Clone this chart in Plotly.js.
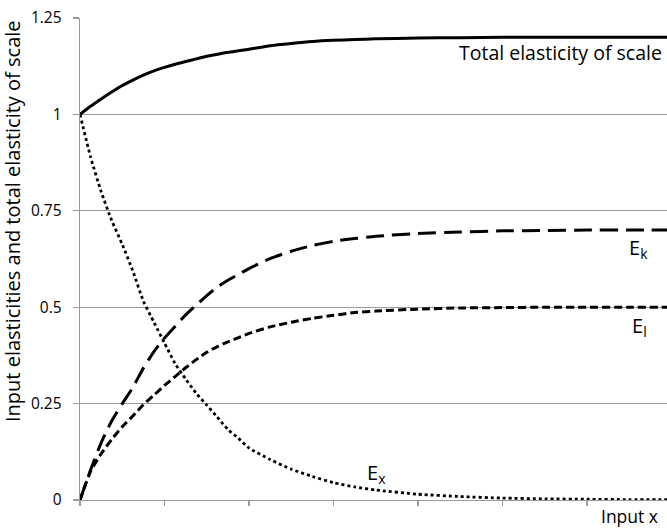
<!DOCTYPE html>
<html>
<head>
<meta charset="utf-8">
<script src="https://cdn.plot.ly/plotly-3.0.1.min.js"></script>
<style>html,body{margin:0;padding:0;background:#fff;overflow:hidden}#chart{width:667px;height:528px}</style>
</head>
<body>
<div id="chart"></div>
<script>
// Input x (in tick intervals)
const inputX = [0, 0.125, 0.25, 0.375, 0.5, 0.625, 0.75, 0.875, 1, 1.125, 1.25, 1.375, 1.5, 1.625, 1.75, 1.875, 2, 2.25, 2.5, 2.75, 3, 3.25, 3.5, 4, 4.5, 5, 5.5, 6, 6.5, 7];
const totalScale = [1.0, 1.021, 1.04, 1.058, 1.075, 1.089, 1.102, 1.113, 1.122, 1.13, 1.137, 1.144, 1.151, 1.156, 1.161, 1.165, 1.169, 1.178, 1.184, 1.189, 1.192, 1.194, 1.196, 1.198, 1.199, 1.2, 1.2, 1.2, 1.2, 1.2];
const eK = [0, 0.078, 0.148, 0.205, 0.25, 0.292, 0.342, 0.385, 0.42, 0.45, 0.48, 0.505, 0.53, 0.552, 0.57, 0.585, 0.60, 0.626, 0.645, 0.66, 0.671, 0.678, 0.684, 0.691, 0.695, 0.698, 0.699, 0.70, 0.70, 0.70];
const eL = [0, 0.074, 0.12, 0.157, 0.19, 0.218, 0.247, 0.272, 0.297, 0.32, 0.343, 0.364, 0.383, 0.398, 0.41, 0.421, 0.432, 0.449, 0.461, 0.471, 0.479, 0.486, 0.49, 0.495, 0.498, 0.499, 0.5, 0.5, 0.5, 0.5];
const eX = [1.0, 0.89, 0.80, 0.725, 0.663, 0.594, 0.516, 0.461, 0.407, 0.354, 0.314, 0.277, 0.246, 0.215, 0.183, 0.16, 0.135, 0.105, 0.08, 0.061, 0.045, 0.034, 0.026, 0.015, 0.009, 0.005, 0.003, 0.002, 0.001, 0.001];
const yTicks = [0, 0.25, 0.5, 0.75, 1, 1.25];
const yTickText = ["0", "0.25", "0.5", "0.75", "1", "1.25"];

const FONT = "Open Sans, Liberation Sans, sans-serif";
const mk = (y, dash, w) => ({
  x: inputX, y: y, type: "scatter", mode: "lines",
  line: {color: "#000", width: w, dash: dash, shape: "spline", smoothing: 0.6},
  hoverinfo: "skip", showlegend: false
});

const data = [
  mk(totalScale, "solid", 3),
  mk(eK, "18px,8px", 3),
  mk(eL, "8px,4px", 3),
  mk(eX, "3px,3px", 2.8)
];

const pw = 667 - 80, ph = 528 - 18 - 28;
const px2paperX = p => (p - 80) / pw;
const px2paperY = p => (528 - 28 - p) / ph;

const layout = {
  width: 667, height: 528,
  margin: {l: 80, r: 0, t: 18, b: 28, pad: 0},
  paper_bgcolor: "#fff", plot_bgcolor: "#fff",
  font: {family: FONT, size: 15, color: "#000"},
  xaxis: {
    range: [0, 6.947], tickvals: [0,1,2,3,4,5,6,7], showticklabels: false,
    ticks: "outside", ticklen: 5, tickcolor: "#9a9a9a", tickwidth: 1.3,
    showgrid: false, zeroline: false, showline: true, linecolor: "#9a9a9a", linewidth: 1.3,
    fixedrange: true
  },
  yaxis: {
    range: [0, 1.25], tickvals: yTicks, ticktext: yTickText,
    ticks: "outside", ticklen: 6, tickcolor: "#9a9a9a", tickwidth: 1.3,
    showgrid: true, gridcolor: "#9a9a9a", gridwidth: 1.3,
    zeroline: false, showline: true, linecolor: "#9a9a9a", linewidth: 1.3,
    tickfont: {size: 15.5, family: FONT, color: "#000"}, ticklabelstandoff: 8,
    fixedrange: true
  },
  annotations: [
    {text: "Total elasticity of scale", x: px2paperX(457), y: px2paperY(53), xref: "paper", yref: "paper", xanchor: "left", yanchor: "middle", showarrow: false, font: {size: 19.5}},
    {text: "E<sub>k</sub>", x: px2paperX(627), y: px2paperY(249), xref: "paper", yref: "paper", xanchor: "left", yanchor: "middle", showarrow: false, font: {size: 20}},
    {text: "E<sub>l</sub>", x: px2paperX(630), y: px2paperY(326), xref: "paper", yref: "paper", xanchor: "left", yanchor: "middle", showarrow: false, font: {size: 20}},
    {text: "E<sub>x</sub>", x: px2paperX(365), y: px2paperY(473), xref: "paper", yref: "paper", xanchor: "left", yanchor: "middle", showarrow: false, font: {size: 20}},
    {text: "Input x", x: px2paperX(629), y: px2paperY(516), xref: "paper", yref: "paper", xanchor: "center", yanchor: "middle", showarrow: false, font: {size: 17.5}},
    {text: "Input elasticities and total elasticity of scale", textangle: -90, x: px2paperX(13), y: px2paperY(221), xref: "paper", yref: "paper", xanchor: "center", yanchor: "middle", showarrow: false, font: {size: 20}}
  ]
};

Plotly.newPlot("chart", data, layout, {displayModeBar: false, staticPlot: true});
</script>
</body>
</html>
